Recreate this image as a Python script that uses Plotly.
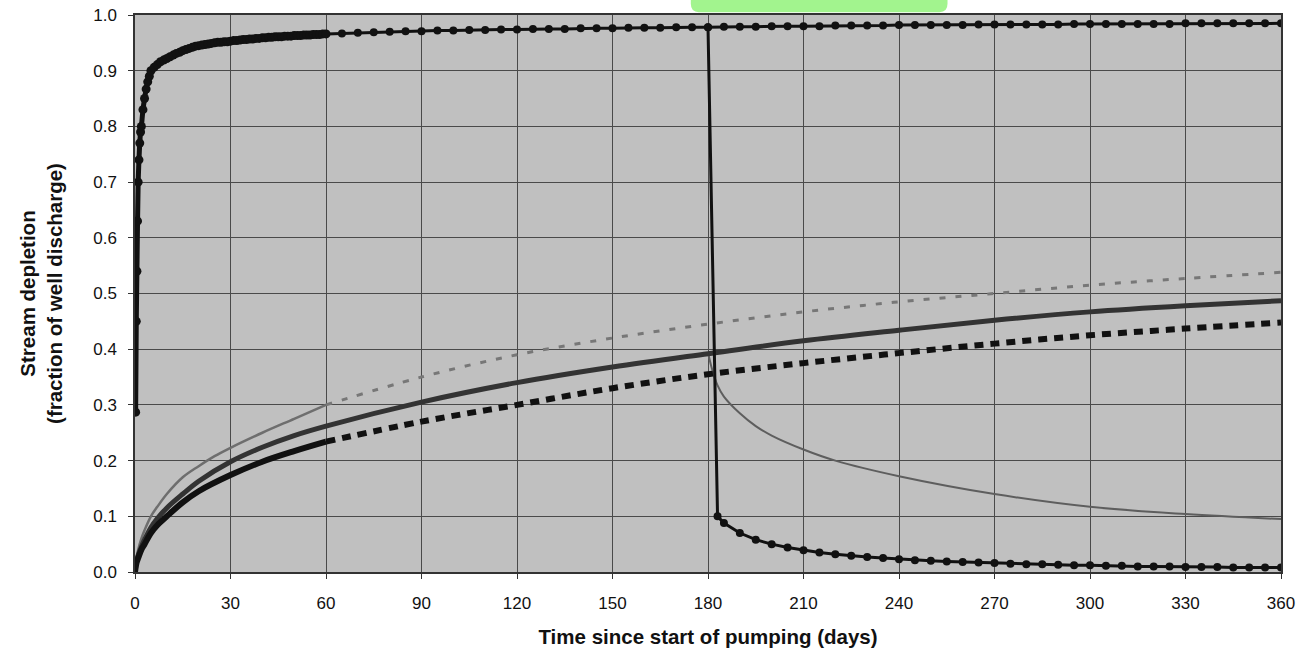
import plotly.graph_objects as go

# --- Well near the stream, pumped continuously (dense early record) ---
near_t_early = [0.2, 0.4, 0.6, 0.8, 1.0, 1.25, 1.5, 1.75, 2, 2.5, 3, 3.5, 4, 4.5, 5, 6, 7,
                8, 9, 10, 11, 12, 13, 14, 15, 16, 17, 18, 19, 20, 21, 22, 23, 24, 25, 26,
                27, 28, 29, 30, 31, 32, 33, 34, 35, 36, 37, 38, 39, 40, 41, 42, 43, 44, 45,
                46, 47, 48, 49, 50, 51, 52, 53, 54, 55, 56, 57, 58, 59, 60]
near_v_early = [0.287, 0.45, 0.54, 0.63, 0.70, 0.74, 0.77, 0.79, 0.80, 0.83, 0.85, 0.867,
                0.88, 0.89, 0.90, 0.906, 0.911, 0.916, 0.919, 0.922, 0.925, 0.928, 0.931,
                0.933, 0.936, 0.938, 0.940, 0.942, 0.944, 0.945, 0.946, 0.947, 0.948,
                0.949, 0.950, 0.951, 0.951, 0.952, 0.952, 0.953, 0.954, 0.954, 0.955,
                0.956, 0.956, 0.957, 0.957, 0.958, 0.958, 0.959, 0.959, 0.960, 0.960,
                0.961, 0.961, 0.961, 0.962, 0.962, 0.962, 0.963, 0.963, 0.963, 0.964,
                0.964, 0.964, 0.965, 0.965, 0.965, 0.966, 0.966]

near_t_late = [65, 70, 75, 80, 85, 90, 95, 100, 105, 110, 115, 120, 125, 130, 135, 140,
               145, 150, 155, 160, 165, 170, 175, 180, 185, 190, 195, 200, 205, 210, 215,
               220, 225, 230, 235, 240, 245, 250, 255, 260, 265, 270, 275, 280, 285, 290,
               295, 300, 305, 310, 315, 320, 325, 330, 335, 340, 345, 350, 355, 360]
near_v_late = [0.967, 0.968, 0.969, 0.970, 0.971, 0.971, 0.972, 0.972, 0.973, 0.973, 0.974,
               0.974, 0.975, 0.975, 0.975, 0.976, 0.976, 0.976, 0.977, 0.977, 0.977, 0.978,
               0.978, 0.978, 0.979, 0.979, 0.979, 0.980, 0.980, 0.980, 0.980, 0.981, 0.981,
               0.981, 0.981, 0.982, 0.982, 0.982, 0.982, 0.982, 0.983, 0.983, 0.983, 0.983,
               0.983, 0.983, 0.984, 0.984, 0.984, 0.984, 0.984, 0.984, 0.984, 0.985, 0.985,
               0.985, 0.985, 0.985, 0.985, 0.985]

# --- Near well, pumping stopped at day 180 ---
stop_t = [180, 183, 185, 190, 195, 200, 205, 210, 215, 220, 225, 230, 235, 240, 245, 250,
          255, 260, 265, 270, 275, 280, 285, 290, 295, 300, 305, 310, 315, 320, 325, 330,
          335, 340, 345, 350, 355, 360]
stop_v = [0.978, 0.100, 0.088, 0.070, 0.058, 0.050, 0.044, 0.039, 0.035, 0.032, 0.029,
          0.027, 0.025, 0.023, 0.021, 0.020, 0.019, 0.018, 0.017, 0.016, 0.015, 0.014,
          0.014, 0.013, 0.012, 0.012, 0.011, 0.011, 0.010, 0.010, 0.010, 0.009, 0.009,
          0.009, 0.008, 0.008, 0.008, 0.008]

# --- Gray thin curve: solid to day 60, dashed afterwards ---
gray_t_a = [0, 0.5, 1, 2, 3, 5, 7, 10, 15, 20, 25, 30, 40, 50, 60]
gray_v_a = [0, 0.025, 0.04, 0.06, 0.075, 0.10, 0.117, 0.14, 0.17, 0.19, 0.208, 0.223, 0.25,
            0.275, 0.30]
gray_t_b = [60, 90, 120, 150, 180, 210, 240, 270, 300, 330, 360]
gray_v_b = [0.30, 0.35, 0.39, 0.42, 0.445, 0.467, 0.485, 0.50, 0.515, 0.527, 0.538]

# --- Dark solid curve ---
dark_t = [0, 0.5, 1, 2, 3, 5, 7, 10, 15, 20, 30, 40, 50, 60, 90, 120, 150, 180, 210, 240,
          270, 300, 330, 360]
dark_v = [0, 0.02, 0.03, 0.045, 0.058, 0.08, 0.096, 0.115, 0.14, 0.163, 0.198, 0.224,
          0.245, 0.262, 0.305, 0.34, 0.368, 0.392, 0.415, 0.434, 0.452, 0.467, 0.478, 0.487]

# --- Black curve: solid to day 60, dashed afterwards ---
black_t_a = [0, 0.5, 1, 2, 3, 5, 7, 10, 15, 20, 30, 40, 50, 60]
black_v_a = [0, 0.017, 0.025, 0.04, 0.05, 0.07, 0.084, 0.10, 0.125, 0.145, 0.174, 0.198,
             0.217, 0.234]
black_t_b = [60, 90, 120, 150, 180, 210, 240, 270, 300, 330, 360]
black_v_b = [0.234, 0.27, 0.30, 0.33, 0.355, 0.375, 0.393, 0.41, 0.425, 0.437, 0.448]

# --- Recovery after pumping stops at day 180 ---
rec_t = [180, 181, 183, 185, 190, 195, 200, 210, 220, 240, 270, 300, 330, 360]
rec_v = [0.395, 0.37, 0.335, 0.315, 0.285, 0.262, 0.245, 0.22, 0.20, 0.172, 0.14, 0.117,
         0.104, 0.095]

x_ticks = list(range(0, 361, 30))
y_ticks = [round(i * 0.1, 1) for i in range(11)]

fig = go.Figure()

fig.add_trace(go.Scatter(x=gray_t_a, y=gray_v_a, mode="lines",
                         line=dict(color="#6e6e6e", width=2.5, shape="spline")))
fig.add_trace(go.Scatter(x=gray_t_b, y=gray_v_b, mode="lines",
                         line=dict(color="#777777", width=3, dash="6px,10px",
                                   shape="spline")))
fig.add_trace(go.Scatter(x=rec_t, y=rec_v, mode="lines",
                         line=dict(color="#5e5e5e", width=2, shape="spline")))
fig.add_trace(go.Scatter(x=dark_t, y=dark_v, mode="lines",
                         line=dict(color="#333333", width=5, shape="spline")))
fig.add_trace(go.Scatter(x=black_t_a, y=black_v_a, mode="lines",
                         line=dict(color="#111111", width=6, shape="spline")))
fig.add_trace(go.Scatter(x=black_t_b, y=black_v_b, mode="lines",
                         line=dict(color="#111111", width=6, dash="9px,7px",
                                   shape="spline")))

marker_style = dict(color="#111111", size=8)
fig.add_trace(go.Scatter(x=near_t_early, y=near_v_early, mode="lines+markers",
                         line=dict(color="#111111", width=5, shape="spline"),
                         marker=dict(color="#111111", size=9)))
fig.add_trace(go.Scatter(x=[near_t_early[-1]] + near_t_late,
                         y=[near_v_early[-1]] + near_v_late,
                         mode="lines+markers", line=dict(color="#111111", width=3),
                         marker=marker_style))
fig.add_trace(go.Scatter(x=stop_t, y=stop_v, mode="lines+markers",
                         line=dict(color="#111111", width=3), marker=marker_style))

# highlighter stroke across the top of the page
fig.add_shape(type="path", xref="paper", yref="paper",
              path="M 0.492 1.005 L 0.702 1.005 Q 0.709 1.005 0.709 1.02 "
                   "L 0.709 1.04 L 0.485 1.04 L 0.485 1.02 Q 0.485 1.005 0.492 1.005 Z",
              fillcolor="#a2f48e", line=dict(width=0), layer="below")

fig.update_layout(
    width=1311, height=653,
    margin=dict(l=135, r=30, t=15, b=81),
    paper_bgcolor="white", plot_bgcolor="#c0c0c0",
    showlegend=False,
    font=dict(family="Liberation Sans, Arial, sans-serif", color="#111111"),
)
fig.update_xaxes(range=[0, 360], tickvals=x_ticks, ticks="outside", ticklen=5,
                 tickcolor="#333", tickfont=dict(size=17), ticklabelstandoff=10,
                 showgrid=True, gridcolor="#4a4a4a", gridwidth=1,
                 showline=True, linecolor="#333", linewidth=1.5, mirror=True,
                 zeroline=False, automargin=False,
                 title=dict(text="<b>Time since start of pumping (days)</b>",
                            font=dict(size=20.5), standoff=17))
fig.update_yaxes(range=[0, 1.0], tickvals=y_ticks, tickformat=".1f", ticks="outside",
                 ticklen=5, tickcolor="#333", tickfont=dict(size=17), ticklabelstandoff=8,
                 showgrid=True, gridcolor="#4a4a4a", gridwidth=1,
                 showline=True, linecolor="#333", linewidth=1.5, mirror=True,
                 zeroline=False, automargin=False,
                 title=dict(text="<b>Stream depletion<br>(fraction of well discharge)</b>",
                            font=dict(size=20.5), standoff=25))

fig.write_html("out.html")
